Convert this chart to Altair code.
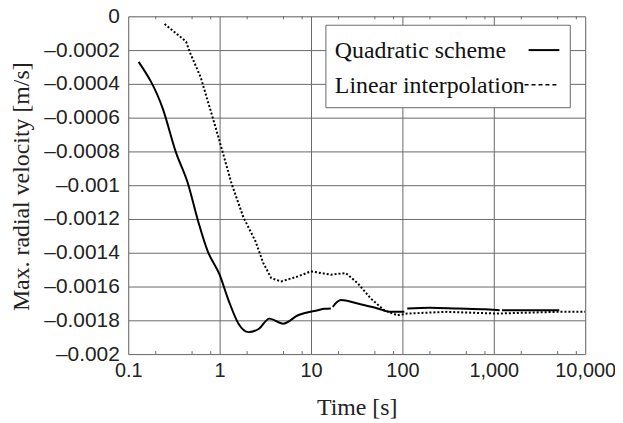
import altair as alt
import pandas as pd

# Quadratic scheme (solid), drawn in segments
q_seg = [1]*17 + [2]*6 + [3]*5 + [4]*3
q_x = [0.13, 0.24, 0.33, 0.45, 0.58, 0.74, 1.0, 1.25, 1.61, 2.07, 2.7, 3.5, 4.96, 7.2, 11.9, 14.0, 16.5,
       17.3, 21.2, 32.4, 53.5, 74, 105,
       113, 200, 400, 800, 1160,
       1230, 2500, 5200]
q_y = [-0.00027, -0.00055, -0.0008, -0.00099, -0.00121, -0.00139, -0.00153, -0.00168, -0.00182, -0.00187,
       -0.00185, -0.00179, -0.00182, -0.00177, -0.00174, -0.001732, -0.00173,
       -0.00172, -0.00168, -0.0017, -0.00173, -0.00175, -0.00175,
       -0.00173, -0.001725, -0.00173, -0.001735, -0.00174,
       -0.00174, -0.00174, -0.00174]

# Linear interpolation (dotted)
l_x = [0.25, 0.43, 0.47, 0.62, 0.82, 1.0, 1.35, 1.82, 2.46, 3.0, 3.67, 4.7, 7.2, 10, 16.5, 24, 32.4,
       44.9, 63, 88, 113, 309, 1070, 4800, 10000]
l_y = [-0.000045, -0.00015, -0.00021, -0.00036, -0.00058, -0.00074, -0.00099, -0.00119, -0.00133,
       -0.00146, -0.00155, -0.00157, -0.00154, -0.00151, -0.00153, -0.00152, -0.00158, -0.00167,
       -0.00174, -0.00177, -0.00176, -0.00175, -0.00176, -0.00175, -0.00175]

series_names = ["Quadratic scheme", "Linear interpolation"]
x_ticks = [0.1, 1, 10, 100, 1000, 10000]
y_ticks = [0, -0.0002, -0.0004, -0.0006, -0.0008, -0.001, -0.0012, -0.0014, -0.0016, -0.0018, -0.002]
minor_x = [m * d for d in [0.1, 1, 10, 100, 1000] for m in (2, 5, 8)]

q_df = pd.DataFrame({"seg": [f"q{s}" for s in q_seg], "x": q_x, "y": q_y})
l_df = pd.DataFrame({"x": l_x, "y": l_y})

W, H = 460, 340
GRID = "#6a6a6a"
SERIF = "Liberation Serif"
SANS = "Liberation Sans"

xscale = alt.Scale(type="log", domain=[0.1, 10000])
yscale = alt.Scale(domain=[-0.002, 0])

x_enc = alt.X("x:Q", scale=xscale,
              axis=alt.Axis(values=x_ticks, format=",~g", title="Time [s]", grid=True, ticks=False,
                            labelFlush=False, labelOverlap=False,
                            labelFont=SANS, labelFontSize=20, labelColor="#222", labelPadding=7,
                            titleFont=SERIF, titleFontSize=24, titleFontWeight="normal", titleColor="#222",
                            titleY=61, titleBaseline="alphabetic", gridColor=GRID, domain=False))
y_enc = alt.Y("y:Q", scale=yscale,
              axis=alt.Axis(values=y_ticks, title="Max. radial velocity [m/s]", grid=True, ticks=False,
                            labelFlush=False, labelOverlap=False,
                            labelExpr="datum.value == 0 ? '0' : '\u2013' + format(-datum.value, '~g')",
                            labelFont=SANS, labelFontSize=21, labelColor="#222", labelPadding=9,
                            titleFont=SERIF, titleFontSize=24, titleFontWeight="normal", titleColor="#222",
                            titleX=-100, titleY=171, titleBaseline="alphabetic",
                            gridColor=GRID, domain=False))

quad = alt.Chart(q_df).mark_line(color="black", strokeWidth=2, clip=True, interpolate="monotone").encode(
    x=x_enc, y=y_enc, detail="seg:N")
lin = alt.Chart(l_df).mark_line(color="black", strokeWidth=2, clip=True, strokeDash=[2, 2]).encode(
    x=x_enc, y=y_enc)

minor_df = pd.DataFrame({"x": minor_x})
minor_bottom = alt.Chart(minor_df).mark_rule(color=GRID, strokeWidth=1).encode(
    x=x_enc, y=alt.value(H - 3), y2=alt.value(H))
minor_top = alt.Chart(minor_df).mark_rule(color=GRID, strokeWidth=1).encode(
    x=x_enc, y=alt.value(0), y2=alt.value(3))

one = pd.DataFrame({"a": [0]})
leg_box = alt.Chart(one).mark_rect(fill="white", stroke=GRID, strokeWidth=1).encode(
    x=alt.value(199), x2=alt.value(445), y=alt.value(9), y2=alt.value(92))
leg_t1 = alt.Chart(one).mark_text(align="left", baseline="alphabetic", font=SERIF, fontSize=24,
                                  color="#111").encode(
    x=alt.value(208), y=alt.value(42), text=alt.value(series_names[0]))
leg_t2 = alt.Chart(one).mark_text(align="left", baseline="alphabetic", font=SERIF, fontSize=24,
                                  color="#111").encode(
    x=alt.value(208), y=alt.value(77), text=alt.value(series_names[1]))
leg_l1 = alt.Chart(one).mark_rule(color="black", strokeWidth=2).encode(
    x=alt.value(403), x2=alt.value(434), y=alt.value(34))
leg_l2 = alt.Chart(one).mark_rule(color="black", strokeWidth=1.5, strokeDash=[4, 3]).encode(
    x=alt.value(399), x2=alt.value(434), y=alt.value(69))

chart = alt.layer(quad, lin, minor_bottom, minor_top, leg_box, leg_t1, leg_t2, leg_l1, leg_l2).properties(
    width=W, height=H,
    autosize=alt.AutoSizeParams(type="none"),
    padding={"left": 121, "top": 7, "right": 30, "bottom": 68},
).configure_view(stroke=GRID, strokeWidth=1.2).configure(background="white")

chart.save("out.html", embed_options={"renderer": "svg", "actions": False})
